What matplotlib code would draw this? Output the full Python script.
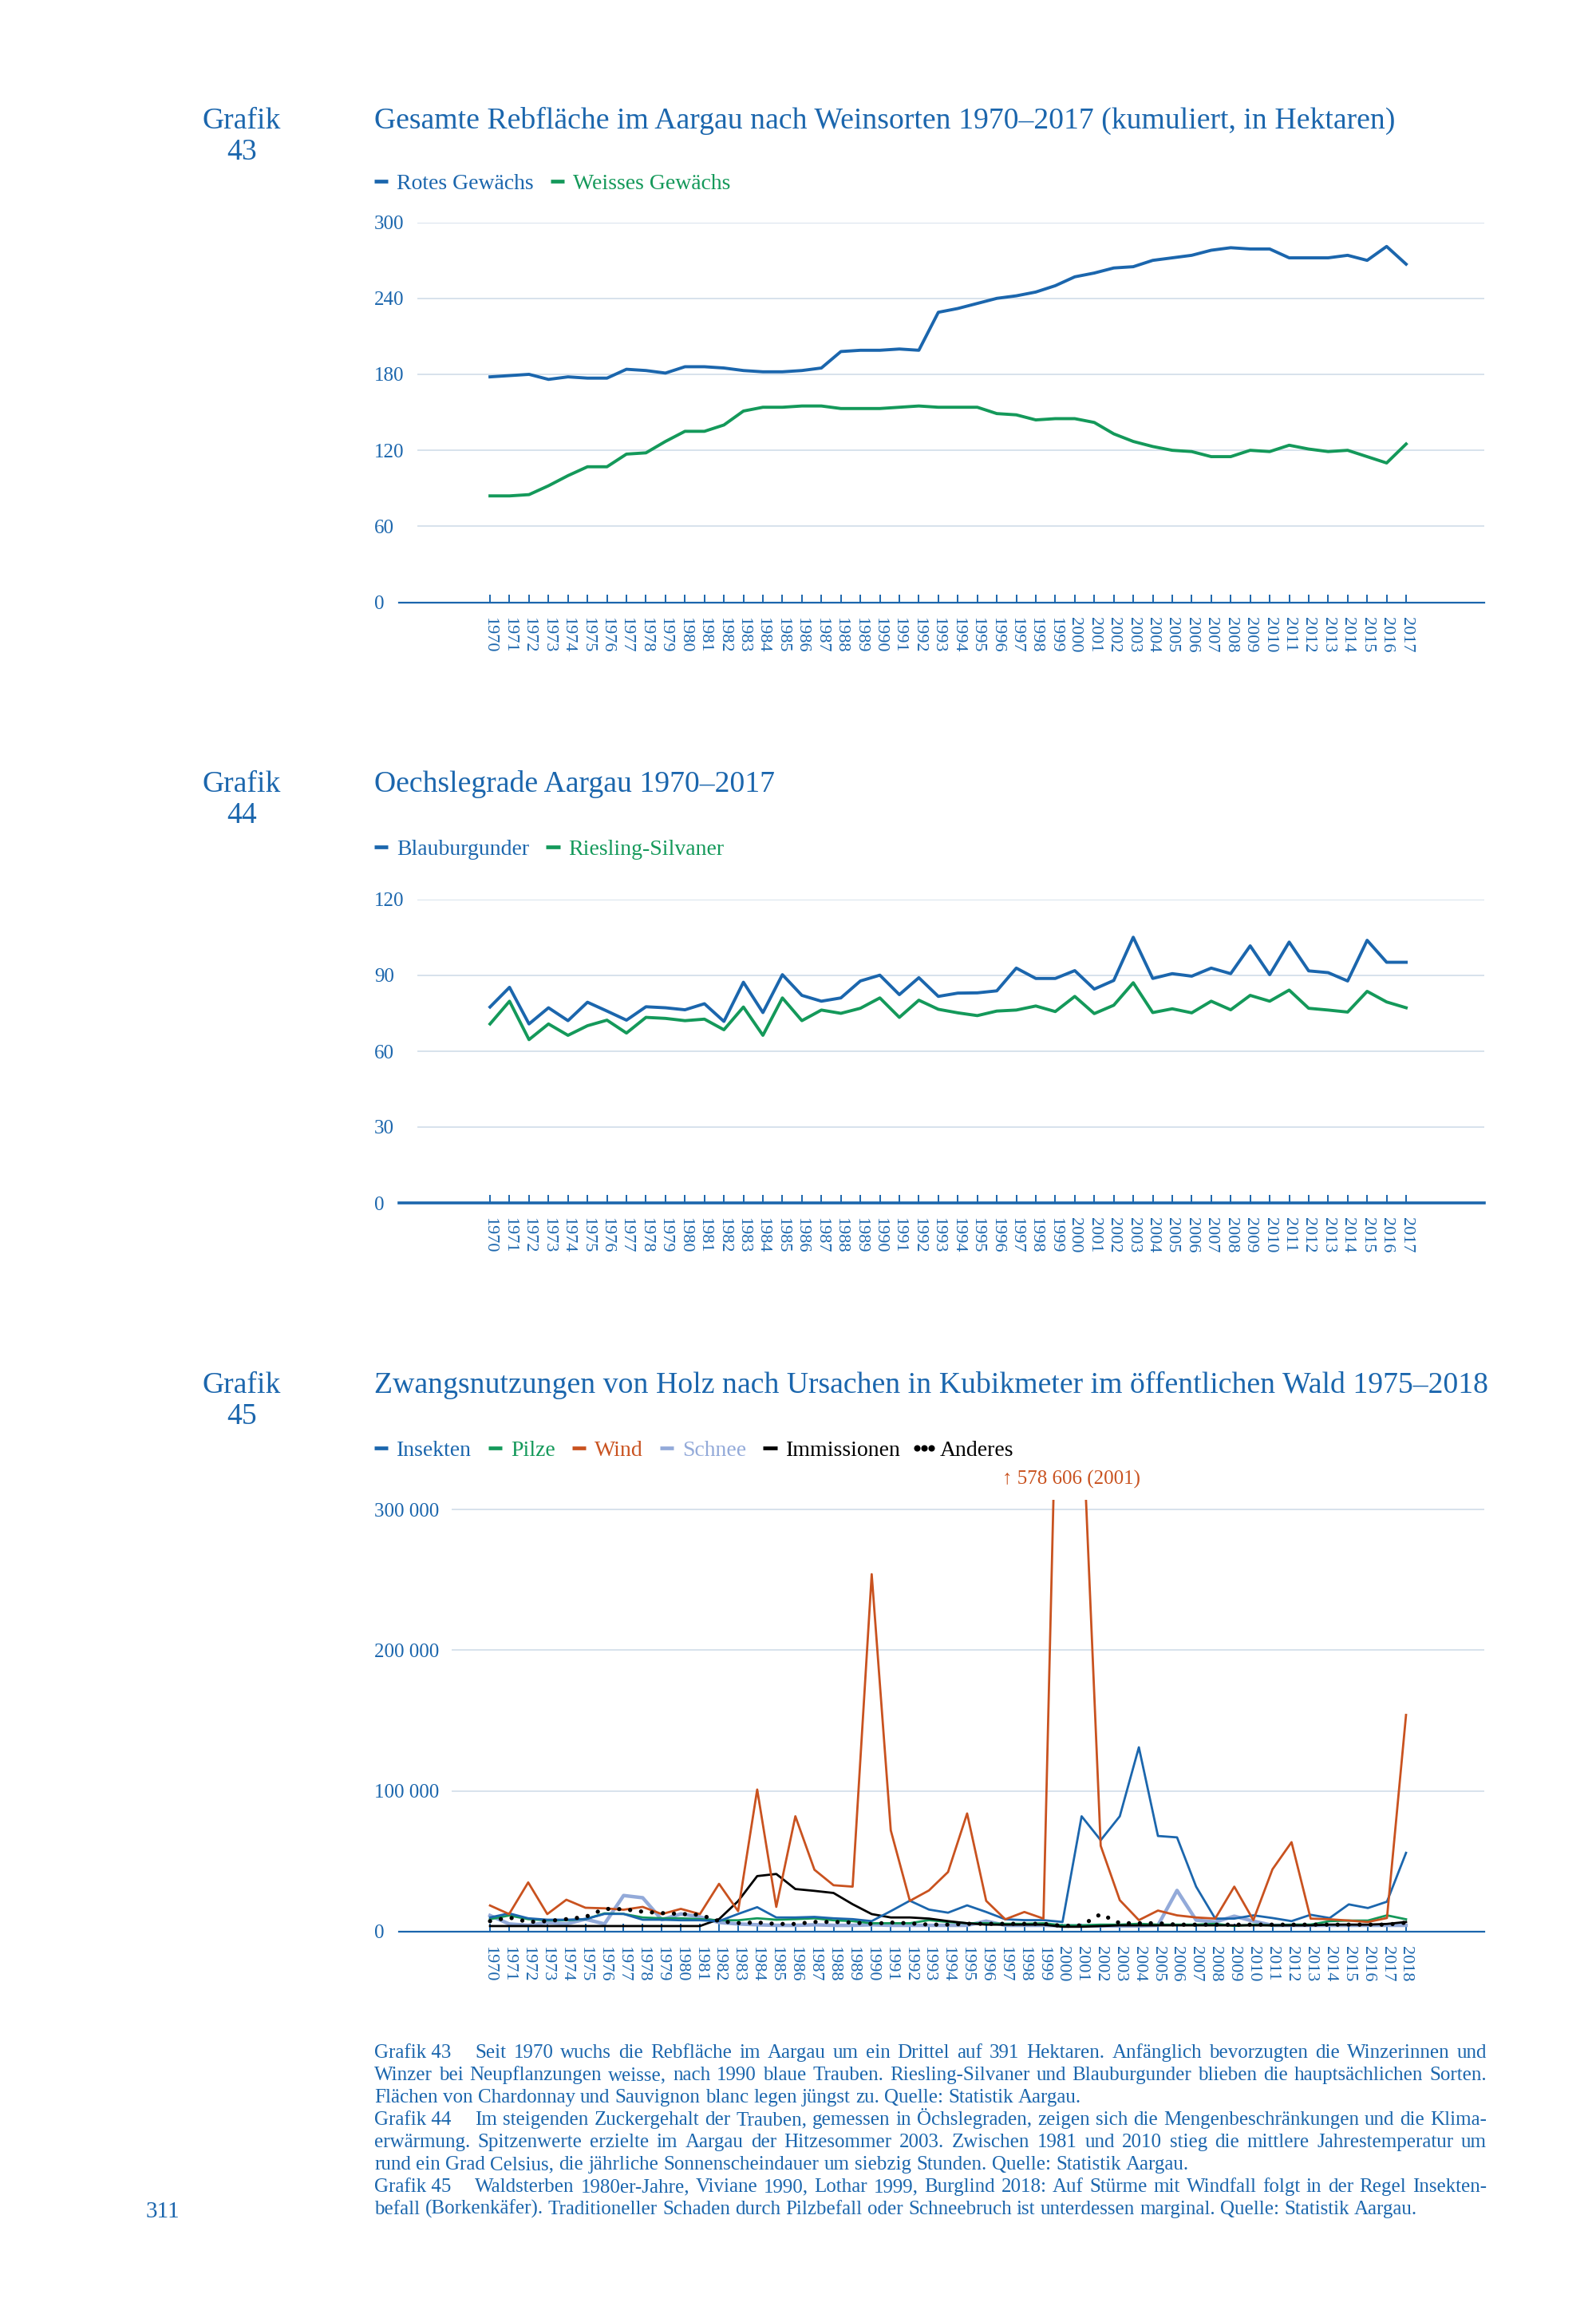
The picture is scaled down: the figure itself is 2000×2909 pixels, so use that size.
import matplotlib
matplotlib.use('Agg')
import matplotlib.pyplot as plt
from matplotlib.lines import Line2D
from matplotlib.legend_handler import HandlerLine2D

plt.rcParams['font.family'] = ['Liberation Serif', 'DejaVu Serif']

BLUE = '#1b66ad'
GREEN = '#14995a'
ORANGE = '#c9521f'
LIGHT = '#93aad9'
GRID = '#d7e2ec'

# ---- data -------------------------------------------------------------
years_a = list(range(1970, 2018))
rotes = [178, 179, 180, 176, 178, 177, 177, 184, 183, 181,
         186, 186, 185, 183, 182, 182, 183, 185, 198, 199,
         199, 200, 199, 229, 232, 236, 240, 242, 245, 250,
         257, 260, 264, 265, 270, 272, 274, 278, 280, 279,
         279, 272, 272, 272, 274, 270, 281, 267]
weisses = [84, 84, 85, 92, 100, 107, 107, 117, 118, 127,
           135, 135, 140, 151, 154, 154, 155, 155, 153, 153,
           153, 154, 155, 154, 154, 154, 149, 148, 144, 145,
           145, 142, 133, 127, 123, 120, 119, 115, 115, 120,
           119, 124, 121, 119, 120, 115, 110, 125]

blauburgunder = [77.5, 85.3, 70.8, 77.2, 72.1, 79.4, 75.9, 72.3, 77.6, 77.2,
                 76.4, 78.8, 71.8, 87.3, 75.3, 90.3, 82.1, 79.8, 81.1, 87.8,
                 90.1, 82.4, 89.1, 81.7, 83.0, 83.1, 83.9, 92.9, 88.8, 88.8,
                 91.9, 84.6, 88.0, 105.1, 88.8, 90.7, 89.7, 92.9, 90.7, 101.7,
                 90.3, 103.2, 91.8, 91.1, 87.8, 103.9, 95.2, 95.2]
riesling = [70.8, 79.8, 64.6, 70.8, 66.3, 70.1, 72.3, 67.2, 73.4, 73.0,
            72.1, 72.7, 68.5, 77.5, 66.3, 81.1, 72.1, 76.3, 75.0, 77.0,
            81.1, 73.4, 80.2, 76.6, 75.2, 74.1, 75.9, 76.3, 77.9, 75.7,
            81.7, 74.9, 78.2, 87.1, 75.3, 76.8, 75.2, 79.8, 76.4, 82.1,
            79.8, 84.2, 77.0, 76.3, 75.5, 83.7, 79.5, 77.2]

years_c = list(range(1970, 2019))
insekten = [10100, 13000, 9500, 8500, 8500, 8900, 12600, 12600, 8500, 8500,
            8100, 8100, 7500, 12600, 17400, 10100, 10100, 10500, 9500, 8900,
            7500, 14600, 22000, 15700, 13500, 18700, 14000, 8800, 8200, 8200,
            6900, 82000, 65000, 82000, 131000, 68000, 67000, 32000, 9300, 9300,
            11600, 9700, 7500, 12000, 9700, 19400, 16800, 21300, 56000]
pilze = [8900, 11500, 8900, 8100, 8100, 8900, 13000, 12600, 10100, 9500,
         9500, 8900, 8100, 8100, 9500, 8500, 8900, 9500, 8100, 7500,
         6000, 6000, 6000, 8200, 6900, 6000, 6000, 5600, 5600, 6000,
         4500, 4500, 5000, 5000, 5600, 5000, 5000, 5000, 5600, 4100,
         5000, 4500, 5000, 5000, 7500, 7900, 7900, 11600, 8800]
wind = [18600, 12500, 35000, 12500, 22700, 17000, 16600, 15600, 17600, 12500,
        16200, 12500, 34000, 14600, 101000, 17600, 82000, 44000, 33000, 32000,
        254000, 72000, 21900, 29300, 42400, 84000, 21900, 8800, 14000, 9300,
        578606, 380000, 61000, 22400, 8200, 15000, 11600, 10100, 9300, 32000,
        8200, 44300, 63600, 9300, 8800, 7900, 6900, 9700, 154000]
schnee = [11500, 5500, 4500, 6500, 5500, 8900, 5500, 25700, 24100, 8500,
          12600, 10500, 6500, 5500, 4900, 4500, 4500, 4900, 4500, 4500,
          4900, 4500, 4500, 4500, 4500, 4500, 7500, 4500, 4500, 4500,
          4100, 4100, 4100, 4100, 4100, 4500, 29300, 8200, 6900, 11000,
          7500, 4500, 4500, 4500, 4500, 4500, 4500, 4500, 4500]
immissionen = [4000, 4000, 4000, 4000, 4000, 4000, 4000, 4000, 4000, 4000,
               4000, 4000, 8900, 21700, 39500, 41000, 30300, 29000, 27500, 19500,
               12500, 10100, 10100, 9300, 7500, 6000, 5000, 5000, 5000, 5000,
               3500, 3500, 4000, 4500, 4500, 4500, 4500, 4500, 4500, 4500,
               4500, 4500, 4500, 4500, 5000, 5000, 5000, 5500, 6900]
anderes = [7500, 10100, 6900, 7500, 8900, 10500, 16200, 16000, 14200, 13200,
           12600, 12000, 7500, 6100, 6500, 5500, 5500, 6900, 6900, 6500,
           5500, 6500, 5900, 5000, 5000, 5600, 5600, 5600, 5600, 5600,
           4100, 4500, 12500, 6000, 6000, 6000, 5000, 5000, 5000, 5000,
           5000, 5000, 5000, 5000, 5000, 5000, 5000, 5000, 6400]

captions = [
    ('Grafik 43', 'Seit 1970 wuchs die Rebfläche im Aargau um ein Drittel auf 391 Hektaren. Anfänglich bevorzugten die Winzerinnen und', False),
    ('', 'Winzer bei Neupflanzungen weisse, nach 1990 blaue Trauben. Riesling-Silvaner und Blauburgunder blieben die hauptsächlichen Sorten.', False),
    ('', 'Flächen von Chardonnay und Sauvignon blanc legen jüngst zu. Quelle: Statistik Aargau.', True),
    ('Grafik 44', 'Im steigenden Zuckergehalt der Trauben, gemessen in Öchslegraden, zeigen sich die Mengenbeschränkungen und die Klima-', False),
    ('', 'erwärmung. Spitzenwerte erzielte im Aargau der Hitzesommer 2003. Zwischen 1981 und 2010 stieg die mittlere Jahrestemperatur um', False),
    ('', 'rund ein Grad Celsius, die jährliche Sonnenscheindauer um siebzig Stunden. Quelle: Statistik Aargau.', True),
    ('Grafik 45', 'Waldsterben 1980er-Jahre, Viviane 1990, Lothar 1999, Burglind 2018: Auf Stürme mit Windfall folgt in der Regel Insekten-', False),
    ('', 'befall (Borkenkäfer). Traditioneller Schaden durch Pilzbefall oder Schneebruch ist unterdessen marginal. Quelle: Statistik Aargau.', True),
]

# ---- layout helpers (pixel coords of the 2000x2909 page) --------------
W, H = 2000, 2909
fig = plt.figure(figsize=(W / 200, H / 200), dpi=200)


def X(px):
    return px / W


def Y(py):
    return 1 - py / H


def make_axes(top, bottom, x0=500, x1=1860):
    return fig.add_axes([X(x0), Y(bottom), (x1 - x0) / W, (bottom - top) / H])


TITLE_FS = 13.6
LEG_FS = 10


def header(num, title, base):
    fig.text(X(303), Y(base), 'Grafik', ha='center', va='baseline', fontsize=TITLE_FS, color=BLUE)
    fig.text(X(303), Y(base + 39), num, ha='center', va='baseline', fontsize=TITLE_FS, color=BLUE)
    fig.text(X(469), Y(base), title, ha='left', va='baseline', fontsize=TITLE_FS, color=BLUE)


def legend(handles, labels, colors, ycen):
    fig.legend(handles, labels, loc='center left', bbox_to_anchor=(X(469), Y(ycen)),
               ncol=len(labels), frameon=False, fontsize=LEG_FS, handlelength=0.62,
               handletextpad=0.4, columnspacing=0.75, borderpad=0, borderaxespad=0,
               labelcolor=colors, numpoints=3,
               handler_map={Line2D: HandlerLine2D(marker_pad=0)})


def dash(c):
    return Line2D([], [], color=c, lw=1.7, solid_capstyle='butt')


def style(ax, yticks, ylabels, years, xlim, ylim, grid_from, axis_lw=0.8):
    ax.set_xlim(*xlim)
    ax.set_ylim(*ylim)
    for s in ('top', 'right', 'left'):
        ax.spines[s].set_visible(False)
    ax.spines['bottom'].set_color(BLUE)
    ax.spines['bottom'].set_linewidth(axis_lw)
    for v in yticks[1:]:
        ax.axhline(v, xmin=grid_from, xmax=1, color=GRID, lw=0.7, zorder=0)
    ax.set_yticks(yticks)
    ax.set_yticklabels(ylabels, fontsize=9, color=BLUE, ha='left')
    ax.tick_params(axis='y', length=0, pad=11.2)
    ax.set_xticks(years)
    ax.set_xticklabels([str(y) for y in years], rotation=-90, fontsize=8, color=BLUE)
    ax.tick_params(axis='x', direction='in', length=3.6, width=0.7, color=BLUE, pad=6.6)


# ---- Grafik 43 ---------------------------------------------------------
header('43', 'Gesamte Rebfläche im Aargau nach Weinsorten 1970–2017 (kumuliert, in Hektaren)', 161)
ax1 = make_axes(278.6, 754.5)
ax1.plot(years_a, rotes, color=BLUE, lw=1.4, solid_joinstyle='round')
ax1.plot(years_a, weisses, color=GREEN, lw=1.4, solid_joinstyle='round')
style(ax1, [0, 60, 120, 180, 240, 300], ['0', '60', '120', '180', '240', '300'],
      years_a, (1965.33, 2021.01), (0, 300), 0.018)
legend([dash(BLUE), dash(GREEN)], ['Rotes Gewächs', 'Weisses Gewächs'], [BLUE, GREEN], 230)

# ---- Grafik 44 ---------------------------------------------------------
header('44', 'Oechslegrade Aargau 1970–2017', 992)
ax2 = make_axes(1127, 1507)
ax2.plot(years_a, blauburgunder, color=BLUE, lw=1.4, solid_joinstyle='round')
ax2.plot(years_a, riesling, color=GREEN, lw=1.4, solid_joinstyle='round')
style(ax2, [0, 30, 60, 90, 120], ['0', '30', '60', '90', '120'],
      years_a, (1965.33, 2021.01), (0, 120), 0.018, axis_lw=1.3)
legend([dash(BLUE), dash(GREEN)], ['Blauburgunder', 'Riesling-Silvaner'], [BLUE, GREEN], 1064)

# ---- Grafik 45 ---------------------------------------------------------
header('45', 'Zwangsnutzungen von Holz nach Ursachen in Kubikmeter im öffentlichen Wald 1975–2018', 1745)
ax3 = make_axes(1878.7, 2420)
ax3.plot(years_c, schnee, color=LIGHT, lw=1.6)
ax3.plot(years_c, pilze, color=GREEN, lw=1.0)
ax3.plot(years_c, immissionen, color='black', lw=1.0)
ax3.plot(years_c, insekten, color=BLUE, lw=1.0)
ax3.plot(years_c, wind, color=ORANGE, lw=1.0)
ax3.plot(years_c, anderes, color='black', lw=1.9, linestyle=(0, (0.01, 2.6)),
         dash_capstyle='round')
style(ax3, [0, 100000, 200000, 300000], ['0', '100 000', '200 000', '300 000'],
      years_c, (1965.23, 2022.10), (0, 307000), 0.049)
fig.text(X(1343), Y(1853), '↑ 578 606 (2001)', ha='center', va='center', fontsize=9, color=ORANGE)
legend([dash(BLUE), dash(GREEN), dash(ORANGE), dash(LIGHT), dash('black'),
        Line2D([], [], color='black', linestyle='none', marker='o', markersize=1.9)],
       ['Insekten', 'Pilze', 'Wind', 'Schnee', 'Immissionen', 'Anderes'],
       [BLUE, GREEN, ORANGE, LIGHT, 'black', 'black'], 1817)

# ---- justified captions ------------------------------------------------
CAP_FS = 9.0
CAP_L, CAP_R = 469, 1863
renderer = fig.canvas.get_renderer()


def width_of(t):
    return t.get_window_extent(renderer=renderer).width


probe_a = fig.text(0, 0, 'a a', fontsize=CAP_FS)
probe_b = fig.text(0, 0, 'aa', fontsize=CAP_FS)
space_w = width_of(probe_a) - width_of(probe_b)
probe_a.remove()
probe_b.remove()

for i, (head, body, last) in enumerate(captions):
    yb = Y(2578 + 28 * i)
    x = CAP_L
    if head:
        t = fig.text(X(x), yb, head, fontsize=CAP_FS, color=BLUE, va='baseline')
        x += width_of(t) + 30
    words = body.split()
    texts = [fig.text(0, yb, w, fontsize=CAP_FS, color=BLUE, va='baseline') for w in words]
    widths = [width_of(t) for t in texts]
    if last:
        gap = space_w
    else:
        gap = (CAP_R - x - sum(widths)) / (len(words) - 1)
    for t, w in zip(texts, widths):
        t.set_x(X(x))
        x += w + gap

fig.text(X(183), Y(2778), '311', fontsize=10.5, color=BLUE, va='baseline')

fig.savefig('out.png', dpi=200)
